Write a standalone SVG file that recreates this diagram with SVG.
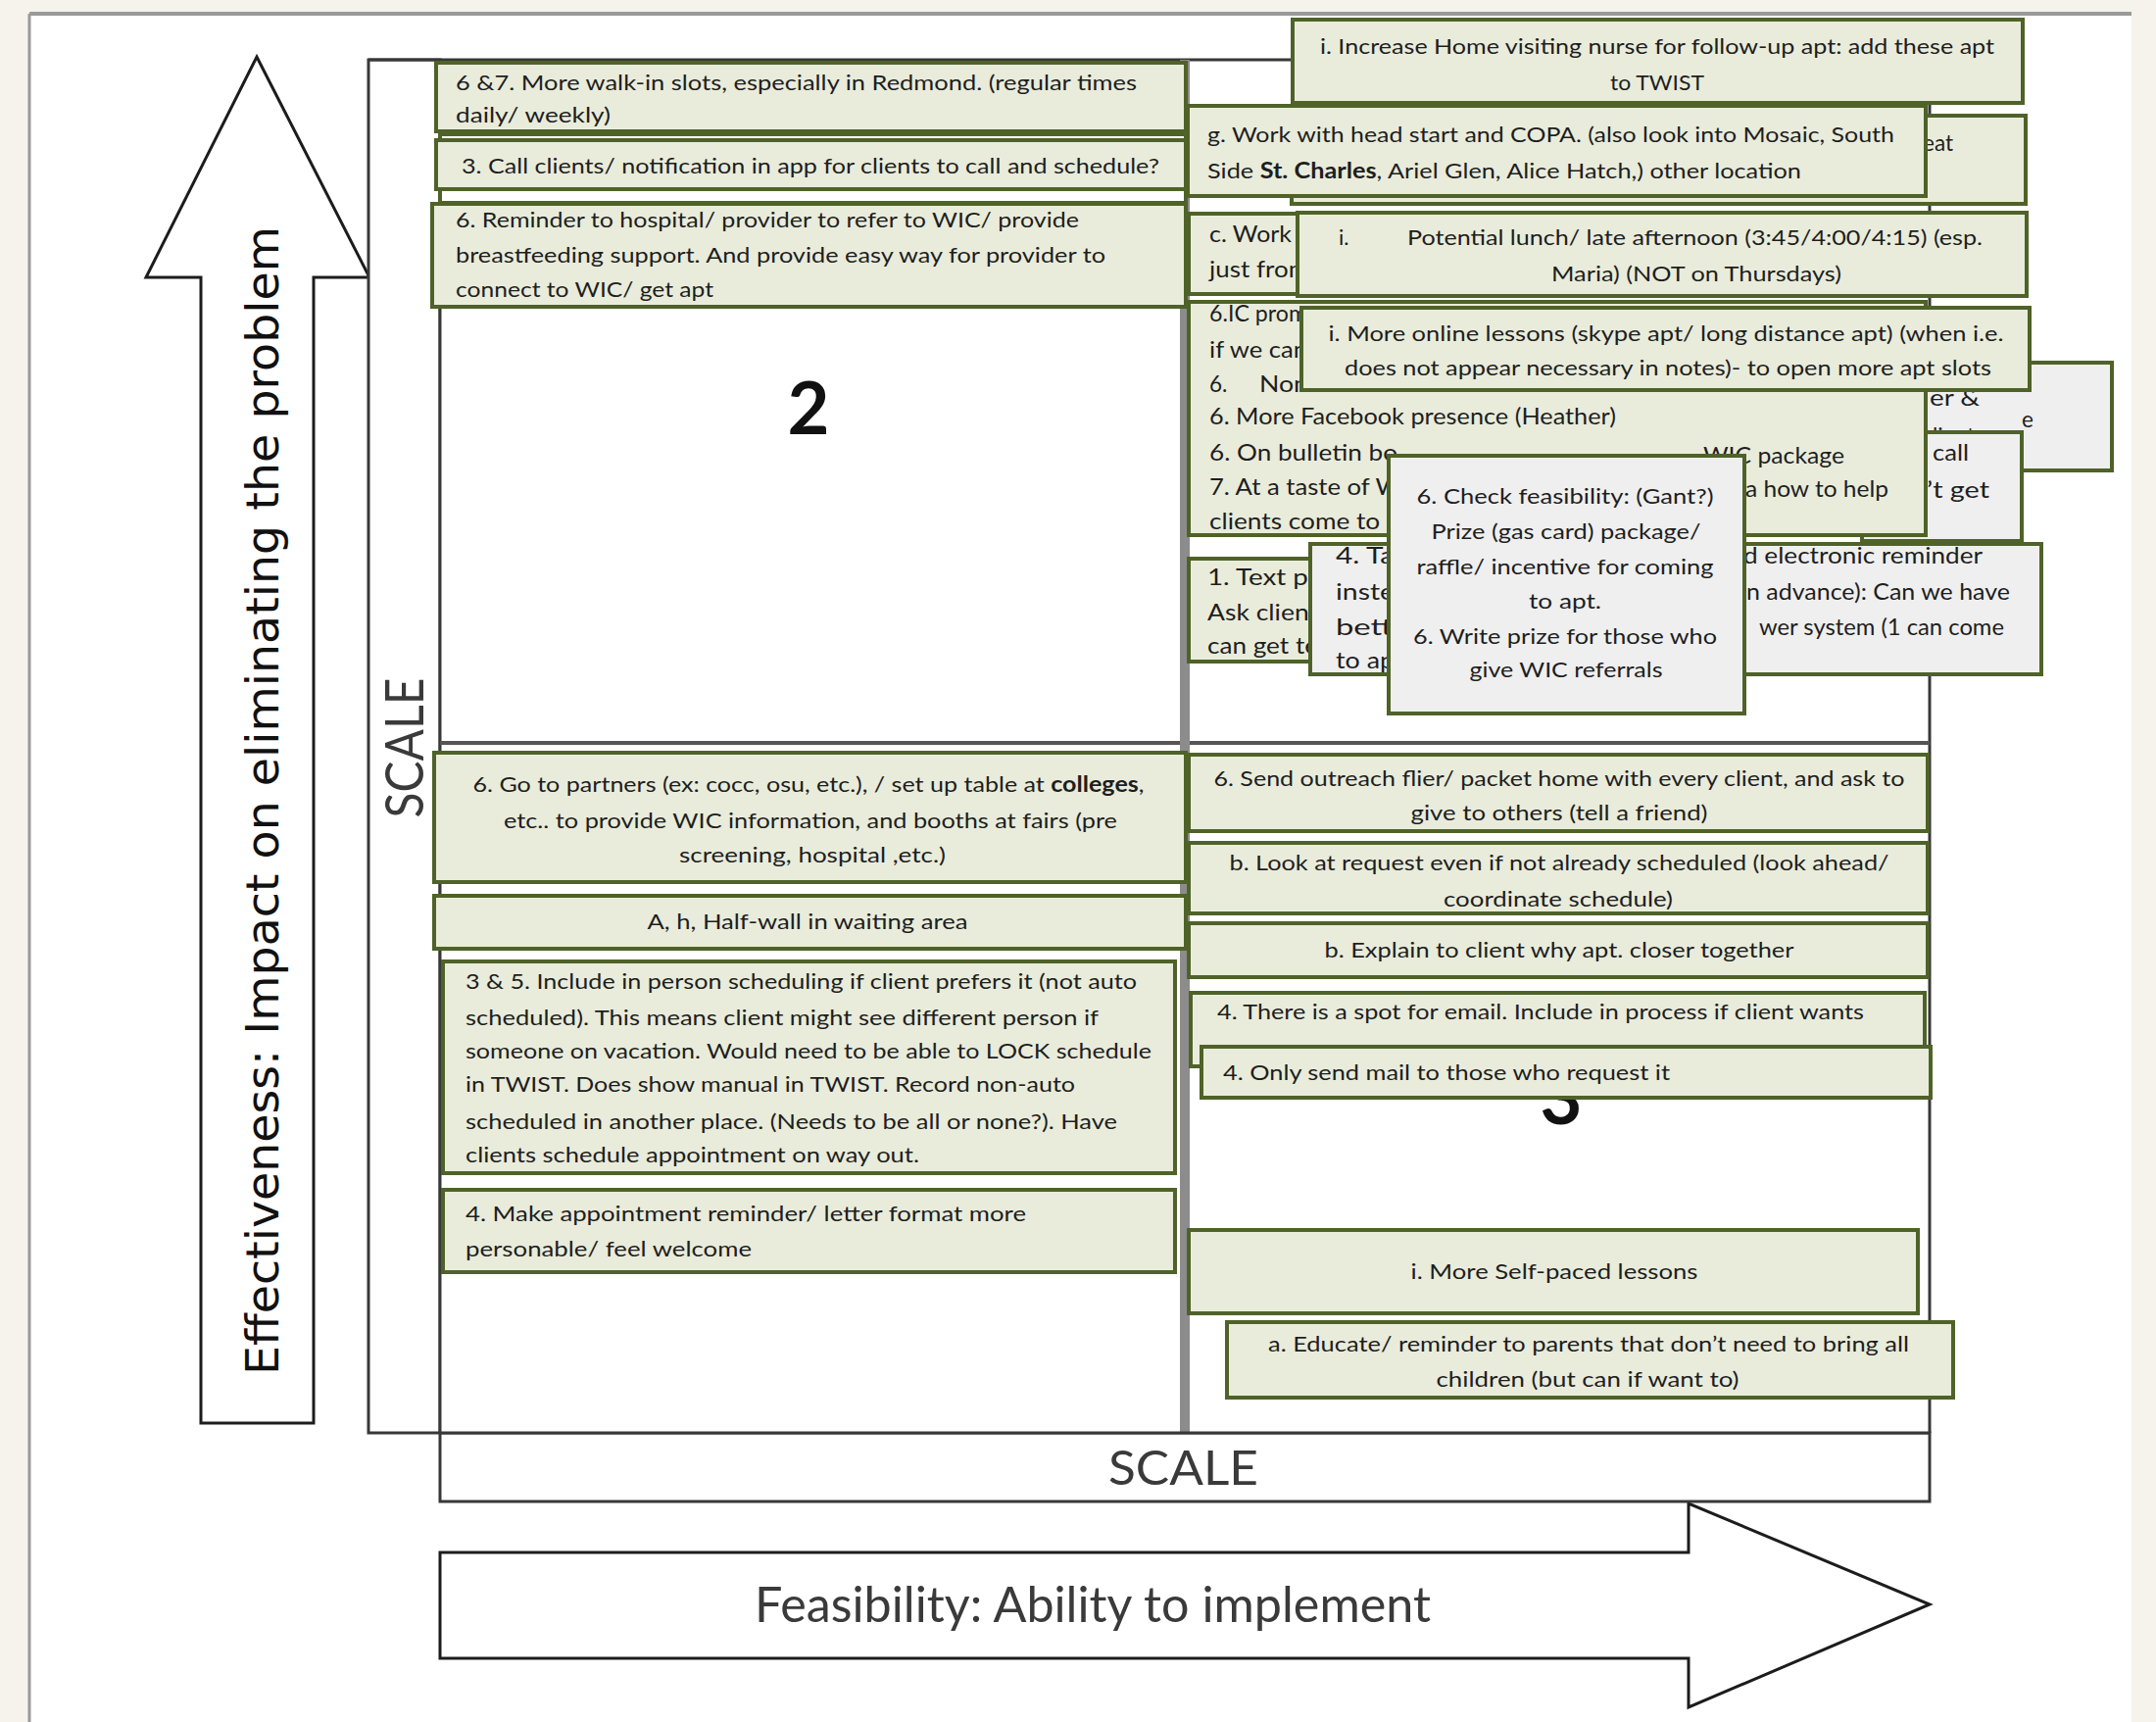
<svg xmlns="http://www.w3.org/2000/svg" width="2200" height="1757" viewBox="0 0 2200 1757">
  <style>
    .g  { fill: #e9ecdb; stroke: #4f6228; stroke-width: 4; }
    .gr { fill: #efefef; stroke: #4f6228; stroke-width: 4; }
    .w  { fill: #ffffff; stroke: #4f6228; stroke-width: 4; }
    .frame { fill: #ffffff; stroke: #383838; stroke-width: 3; }
    .arrow { fill: #ffffff; stroke: #1c1c1c; stroke-width: 3; stroke-linejoin: miter; }
    .t  { font-family: Lato, "Open Sans", sans-serif; font-size: 22px; fill: #1e1e1e; }
    .c  { font-size: 22.5px; }
    .m  { text-anchor: middle; }
    .b  { font-weight: bold; }
    .num { font-family: Lato, "Open Sans", sans-serif; font-size: 74px; font-weight: bold; fill: #111111; text-anchor: middle; }
    .scale { font-family: Lato, "Open Sans", sans-serif; fill: #3a3a3a; }
  </style>

  <!-- page -->
  <rect x="0" y="0" width="2200" height="1757" fill="#f5f3ec"/>
  <rect x="30" y="14" width="2145" height="1743" fill="#ffffff"/>
  <line x1="30" y1="14" x2="2175" y2="14" stroke="#9a9a9a" stroke-width="4"/>
  <line x1="30" y1="14" x2="30" y2="1757" stroke="#9a9a9a" stroke-width="3"/>

  <!-- vertical axis arrow -->
  <g id="axis-effectiveness">
    <path class="arrow" d="M262,58 L377,283 L320,283 L320,1452 L205,1452 L205,283 L149,283 Z"/>
    <text transform="translate(284,817) rotate(-90)" text-anchor="middle" font-family="DejaVu Sans, Verdana, sans-serif" font-size="46" fill="#111111" textLength="1172" lengthAdjust="spacingAndGlyphs">Effectiveness: Impact on eliminating the problem</text>
  </g>

  <!-- horizontal axis arrow -->
  <g id="axis-feasibility">
    <path class="arrow" d="M449,1584 L1723,1584 L1723,1534 L1969,1637 L1723,1742 L1723,1692 L449,1692 Z"/>
    <text class="scale" x="770" y="1655" font-size="51" fill="#111111" textLength="690" lengthAdjust="spacingAndGlyphs">Feasibility: Ability to implement</text>
  </g>

  <!-- scale bars -->
  <g id="scale-vertical">
    <rect class="frame" x="376" y="61" width="73" height="1401"/>
    <text class="scale" transform="translate(432,763) rotate(-90)" text-anchor="middle" font-size="54" textLength="143" lengthAdjust="spacingAndGlyphs">SCALE</text>
  </g>
  <g id="scale-horizontal">
    <rect class="frame" x="449" y="1462" width="1520" height="70"/>
    <text class="scale" x="1131" y="1515" font-size="49" textLength="153" lengthAdjust="spacingAndGlyphs">SCALE</text>
  </g>

  <!-- quadrant grid -->
  <g id="grid">
    <rect x="449" y="61" width="1520" height="1401" fill="#ffffff"/>
    <line x1="376" y1="61" x2="1969" y2="61" stroke="#383838" stroke-width="3"/>
    <line x1="1969" y1="61" x2="1969" y2="1462" stroke="#383838" stroke-width="3"/>
    <line x1="449" y1="61" x2="449" y2="1462" stroke="#383838" stroke-width="3"/>
    <line x1="449" y1="758" x2="1969" y2="758" stroke="#555555" stroke-width="4"/>
    <rect x="1204" y="61" width="10" height="1401" fill="#8c8c8c"/>
    <line x1="449" y1="1462" x2="1969" y2="1462" stroke="#383838" stroke-width="3"/>
  </g>

  <text class="num" x="825" y="443">2</text>
  <text class="num" x="1593" y="1147">3</text>

  <!-- quadrant 2: upper left -->
  <g id="n-backing">
    <rect class="w" x="449" y="137" width="761" height="70"/>
  </g>
  <g id="n-walkin">
    <rect class="g" x="445" y="64" width="765" height="70"/>
    <text class="t" x="465" y="92" textLength="695" lengthAdjust="spacingAndGlyphs">6 &amp;7. More walk-in slots, especially in Redmond. (regular times</text>
    <text class="t" x="465" y="125" textLength="158" lengthAdjust="spacingAndGlyphs">daily/ weekly)</text>
  </g>
  <g id="n-call">
    <rect class="g" x="445" y="143" width="765" height="50"/>
    <text class="t m" x="827" y="177" textLength="712" lengthAdjust="spacingAndGlyphs">3. Call clients/ notification in app for clients to call and schedule?</text>
  </g>
  <g id="n-reminder-hospital">
    <rect class="g" x="441" y="208" width="769" height="105"/>
    <text class="t" x="465" y="232" textLength="636" lengthAdjust="spacingAndGlyphs">6. Reminder to hospital/ provider to refer to WIC/ provide</text>
    <text class="t" x="465" y="268" textLength="663" lengthAdjust="spacingAndGlyphs">breastfeeding support. And provide easy way for provider to</text>
    <text class="t" x="465" y="303" textLength="263" lengthAdjust="spacingAndGlyphs">connect to WIC/ get apt</text>
  </g>

  <!-- quadrant 3: lower left -->
  <g id="n-partners">
    <rect class="g" x="443" y="768" width="767" height="132"/>
    <text class="t m" x="825" y="808" textLength="685" lengthAdjust="spacingAndGlyphs">6. Go to partners (ex: cocc, osu, etc.), / set up table at <tspan class="b">colleges</tspan>,</text>
    <text class="t m" x="827" y="845" textLength="626" lengthAdjust="spacingAndGlyphs">etc.. to provide WIC information, and booths at fairs (pre</text>
    <text class="t m" x="829" y="880" textLength="272" lengthAdjust="spacingAndGlyphs">screening, hospital ,etc.)</text>
  </g>
  <g id="n-halfwall">
    <rect class="g" x="443" y="914" width="767" height="54"/>
    <text class="t m" x="824" y="948" textLength="327" lengthAdjust="spacingAndGlyphs">A, h, Half-wall in waiting area</text>
  </g>
  <g id="n-in-person">
    <rect class="g" x="452" y="981" width="747" height="216"/>
    <text class="t" x="475" y="1009" textLength="685" lengthAdjust="spacingAndGlyphs">3 &amp; 5. Include in person scheduling if client prefers it (not auto</text>
    <text class="t" x="475" y="1046" textLength="646" lengthAdjust="spacingAndGlyphs">scheduled). This means client might see different person if</text>
    <text class="t" x="475" y="1080" textLength="700" lengthAdjust="spacingAndGlyphs">someone on vacation.  Would need to be able to LOCK schedule</text>
    <text class="t" x="475" y="1114" textLength="622" lengthAdjust="spacingAndGlyphs">in TWIST.  Does show manual in TWIST. Record non-auto</text>
    <text class="t" x="475" y="1152" textLength="665" lengthAdjust="spacingAndGlyphs">scheduled in another place. (Needs to be all or none?). Have</text>
    <text class="t" x="475" y="1186" textLength="463" lengthAdjust="spacingAndGlyphs">clients schedule appointment on way out.</text>
  </g>
  <g id="n-letter">
    <rect class="g" x="452" y="1214" width="747" height="84"/>
    <text class="t" x="475" y="1246" textLength="572" lengthAdjust="spacingAndGlyphs">4. Make appointment reminder/ letter format more</text>
    <text class="t" x="475" y="1282" textLength="292" lengthAdjust="spacingAndGlyphs">personable/ feel welcome</text>
  </g>

  <!-- quadrant 1: upper right (stacked notes, later ones drawn on top) -->
  <g id="n-eat">
    <rect class="g" x="1318" y="118" width="749" height="90"/>
    <text class="t c" x="1962" y="154">eat</text>
  </g>
  <g id="n-home-nurse">
    <rect class="g" x="1319" y="20" width="745" height="85"/>
    <text class="t m" x="1691" y="55" textLength="688" lengthAdjust="spacingAndGlyphs">i. Increase Home visiting nurse for follow-up apt: add these apt</text>
    <text class="t m" x="1691" y="92" textLength="96" lengthAdjust="spacingAndGlyphs">to TWIST</text>
  </g>
  <g id="n-head-start">
    <rect class="g" x="1212" y="108" width="753" height="92"/>
    <text class="t" x="1232" y="145" textLength="701" lengthAdjust="spacingAndGlyphs">g. Work with head start and COPA. (also look into Mosaic, South</text>
    <text class="t" x="1232" y="182" textLength="606" lengthAdjust="spacingAndGlyphs">Side <tspan class="b">St. Charles</tspan>, Ariel Glen, Alice Hatch,) other location</text>
  </g>
  <g id="n-work">
    <rect class="g" x="1213" y="218" width="752" height="82"/>
    <text class="t c" x="1234" y="247" textLength="84" lengthAdjust="spacingAndGlyphs">c. Work</text>
    <text class="t c" x="1234" y="283" textLength="102" lengthAdjust="spacingAndGlyphs">just from</text>
  </g>
  <g id="n-lunch">
    <rect class="g" x="1324" y="217" width="744" height="85"/>
    <text class="t" x="1366" y="250">i.</text>
    <text class="t" x="1436" y="250" textLength="587" lengthAdjust="spacingAndGlyphs">Potential lunch/ late afternoon (3:45/4:00/4:15) (esp.</text>
    <text class="t m" x="1731" y="287" textLength="296" lengthAdjust="spacingAndGlyphs">Maria) (NOT on Thursdays)</text>
  </g>
  <g id="n-clients">
    <rect class="gr" x="1900" y="370" width="255" height="110"/>
    <text class="t c" x="1969" y="414" textLength="51" lengthAdjust="spacingAndGlyphs">er &amp;</text>
    <text class="t c" x="2063" y="436">e</text>
    <text class="t c" x="1972" y="453">lients</text>
  </g>
  <g id="n-call-get">
    <rect class="gr" x="1900" y="441" width="163" height="111"/>
    <text class="t c" x="1972" y="470" textLength="37" lengthAdjust="spacingAndGlyphs">call</text>
    <text class="t c" x="1966" y="508" textLength="64" lengthAdjust="spacingAndGlyphs">’t get</text>
  </g>
  <g id="n-promotion">
    <rect class="g" x="1213" y="308" width="752" height="238"/>
    <text class="t c" x="1234" y="328" textLength="100" lengthAdjust="spacingAndGlyphs">6.IC prom</text>
    <text class="t c" x="1234" y="365" textLength="100" lengthAdjust="spacingAndGlyphs">if we can</text>
    <text class="t c" x="1234" y="400">6.</text>
    <text class="t c" x="1285" y="400" textLength="50" lengthAdjust="spacingAndGlyphs">Non</text>
    <text class="t c" x="1234" y="433" textLength="415" lengthAdjust="spacingAndGlyphs">6. More Facebook presence (Heather)</text>
    <text class="t c" x="1234" y="470" textLength="192" lengthAdjust="spacingAndGlyphs">6. On bulletin bo</text>
    <text class="t c" x="1738" y="473" textLength="144" lengthAdjust="spacingAndGlyphs">WIC package</text>
    <text class="t c" x="1234" y="505" textLength="196" lengthAdjust="spacingAndGlyphs">7. At a taste of W</text>
    <text class="t c" x="1781" y="507" textLength="146" lengthAdjust="spacingAndGlyphs">a how to help</text>
    <text class="t c" x="1234" y="540" textLength="194" lengthAdjust="spacingAndGlyphs">clients come to a</text>
  </g>
  <g id="n-online">
    <rect class="g" x="1328" y="314" width="743" height="84"/>
    <text class="t m" x="1700" y="348" textLength="689" lengthAdjust="spacingAndGlyphs">i. More online lessons (skype apt/ long distance apt) (when i.e.</text>
    <text class="t m" x="1702" y="383" textLength="660" lengthAdjust="spacingAndGlyphs">does not appear necessary in notes)- to open more apt slots</text>
  </g>
  <g id="n-text">
    <rect class="g" x="1213" y="570" width="300" height="105"/>
    <text class="t c" x="1232" y="597" textLength="113" lengthAdjust="spacingAndGlyphs">1. Text pr</text>
    <text class="t c" x="1232" y="633" textLength="113" lengthAdjust="spacingAndGlyphs">Ask client</text>
    <text class="t c" x="1232" y="667" textLength="113" lengthAdjust="spacingAndGlyphs">can get te</text>
  </g>
  <g id="n-electronic">
    <rect class="gr" x="1337" y="555" width="746" height="133"/>
    <text class="t c" x="1363" y="575" textLength="60" lengthAdjust="spacingAndGlyphs">4. Ta</text>
    <text class="t c" x="1363" y="612" textLength="60" lengthAdjust="spacingAndGlyphs">inste</text>
    <text class="t c" x="1363" y="648" textLength="58" lengthAdjust="spacingAndGlyphs">bett</text>
    <text class="t c" x="1363" y="682" textLength="60" lengthAdjust="spacingAndGlyphs">to ap</text>
    <text class="t c" x="1779" y="575" textLength="244" lengthAdjust="spacingAndGlyphs">d electronic reminder</text>
    <text class="t c" x="1782" y="612" textLength="269" lengthAdjust="spacingAndGlyphs">n advance): Can we have</text>
    <text class="t c" x="1795" y="648" textLength="250" lengthAdjust="spacingAndGlyphs">wer system (1 can come</text>
  </g>
  <g id="n-feasibility">
    <rect class="gr" x="1417" y="465" width="363" height="263"/>
    <text class="t m" x="1597" y="514" textLength="303" lengthAdjust="spacingAndGlyphs">6. Check feasibility: (Gant?)</text>
    <text class="t m" x="1598" y="550" textLength="275" lengthAdjust="spacingAndGlyphs">Prize (gas card) package/</text>
    <text class="t m" x="1597" y="586" textLength="303" lengthAdjust="spacingAndGlyphs">raffle/ incentive for coming</text>
    <text class="t m" x="1597" y="621" textLength="74" lengthAdjust="spacingAndGlyphs">to apt.</text>
    <text class="t m" x="1597" y="657" textLength="310" lengthAdjust="spacingAndGlyphs">6. Write prize for those who</text>
    <text class="t m" x="1598" y="691" textLength="197" lengthAdjust="spacingAndGlyphs">give WIC referrals</text>
  </g>

  <!-- quadrant 4: lower right -->
  <g id="n-outreach">
    <rect class="g" x="1213" y="770" width="754" height="78"/>
    <text class="t m" x="1591" y="802" textLength="705" lengthAdjust="spacingAndGlyphs">6. Send outreach flier/ packet home with every client, and ask to</text>
    <text class="t m" x="1591" y="837" textLength="303" lengthAdjust="spacingAndGlyphs">give to others (tell a friend)</text>
  </g>
  <g id="n-request">
    <rect class="g" x="1213" y="860" width="754" height="72"/>
    <text class="t m" x="1591" y="888" textLength="673" lengthAdjust="spacingAndGlyphs">b. Look at request even if not already scheduled (look ahead/</text>
    <text class="t m" x="1590" y="925" textLength="234" lengthAdjust="spacingAndGlyphs">coordinate schedule)</text>
  </g>
  <g id="n-explain">
    <rect class="g" x="1213" y="942" width="754" height="55"/>
    <text class="t m" x="1591" y="977" textLength="479" lengthAdjust="spacingAndGlyphs">b. Explain to client why apt. closer together</text>
  </g>
  <g id="n-email">
    <rect class="g" x="1215" y="1013" width="749" height="75"/>
    <text class="t" x="1242" y="1040" textLength="660" lengthAdjust="spacingAndGlyphs">4. There is a spot for email. Include in process if client wants</text>
  </g>
  <g id="n-mail">
    <rect class="g" x="1226" y="1068" width="744" height="52"/>
    <text class="t" x="1248" y="1102" textLength="456" lengthAdjust="spacingAndGlyphs">4. Only send mail to those who request it</text>
  </g>
  <g id="n-self-paced">
    <rect class="g" x="1213" y="1255" width="744" height="85"/>
    <text class="t m" x="1586" y="1305" textLength="293" lengthAdjust="spacingAndGlyphs">i. More Self-paced lessons</text>
  </g>
  <g id="n-children">
    <rect class="g" x="1252" y="1349" width="741" height="77"/>
    <text class="t m" x="1621" y="1379" textLength="654" lengthAdjust="spacingAndGlyphs">a. Educate/ reminder to parents that don’t need to bring all</text>
    <text class="t m" x="1620" y="1415" textLength="309" lengthAdjust="spacingAndGlyphs">children (but can if want to)</text>
  </g>

  <!-- no connectors in this chart -->
  <g id="connectors"/>
</svg>
